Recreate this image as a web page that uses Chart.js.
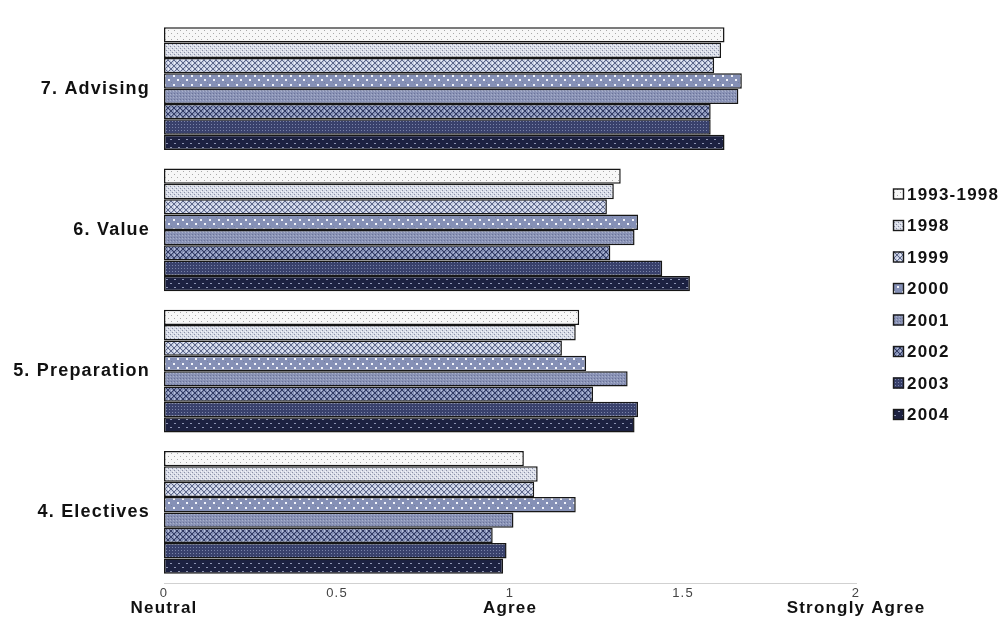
<!DOCTYPE html>
<html>
<head>
<meta charset="utf-8">
<script src="https://cdn.jsdelivr.net/npm/chart.js@4.4.1/dist/chart.umd.min.js"></script>
<style>
  html, body { margin: 0; padding: 0; background: #fff; }
  #wrap { width: 1006px; height: 638px; }
</style>
</head>
<body>
<div id="wrap"><canvas id="c" width="1006" height="638"></canvas></div>
<script>
// Survey items, top to bottom
const categories = ['7. Advising', '6. Value', '5. Preparation', '4. Electives'];

// Cohort names
const seriesNames = ['1993-1998', '1998', '1999', '2000', '2001', '2002', '2003', '2004'];

// Mean response per item (same order as categories)
const v1993_1998 = [1.62, 1.32, 1.20, 1.04];
const v1998      = [1.61, 1.30, 1.19, 1.08];
const v1999      = [1.59, 1.28, 1.15, 1.07];
const v2000      = [1.67, 1.37, 1.22, 1.19];
const v2001      = [1.66, 1.36, 1.34, 1.01];
const v2002      = [1.58, 1.29, 1.24, 0.95];
const v2003      = [1.58, 1.44, 1.37, 0.99];
const v2004      = [1.62, 1.52, 1.36, 0.98];

// Axis labels: numeric ticks and the scale wording beneath them
const tickNumbers = ['0', '0.5', '1', '1.5', '2'];
const tickWords   = ['Neutral', '', 'Agree', '', 'Strongly Agree'];

const seriesValues = [v1993_1998, v1998, v1999, v2000, v2001, v2002, v2003, v2004];

// ---- pattern fills, light to dark ----
function makePattern(size, base, paint) {
  const c = document.createElement('canvas');
  c.width = c.height = size;
  const g = c.getContext('2d');
  g.fillStyle = base;
  g.fillRect(0, 0, size, size);
  paint(g, size);
  return g.createPattern(c, 'repeat');
}
function px(g, color, pts, w = 1, h = 1) {
  g.fillStyle = color;
  pts.forEach(([x, y]) => g.fillRect(x, y, w, h));
}
function crossHatch(g, n, color) {
  g.fillStyle = color;
  for (let i = 0; i < n; i++) {
    g.fillRect(i, i, 1, 1);
    g.fillRect(i, n - 1 - i, 1, 1);
  }
}

const fills = [
  makePattern(6, '#f7f7f7', g => px(g, '#a9a9a9', [[0, 0], [3, 3]])),
  makePattern(4, '#d9dde8', g => { px(g, '#8a90a7', [[0, 0], [2, 2]]); px(g, '#f3f4f8', [[1, 3], [3, 1]]); }),
  makePattern(6, '#c6cde2', g => { crossHatch(g, 6, '#5d6789'); px(g, '#eef1f8', [[0, 2], [0, 3], [3, 0]]); }),
  makePattern(9, '#8590b6', g => { px(g, '#76819f', [[0, 1], [3, 4], [6, 7]]); px(g, '#f2f4fa', [[2, 3], [6, 7]], 2, 2); }),
  makePattern(3, '#8a93b6', g => { px(g, '#6a7398', [[0, 0]]); px(g, '#a9b1cc', [[2, 1]]); }),
  makePattern(6, '#8590b6', g => { crossHatch(g, 6, '#323b63'); px(g, '#b9c1db', [[0, 2], [0, 3], [3, 0]]); }),
  makePattern(3, '#39416c', g => px(g, '#7a83a8', [[1, 1]])),
  makePattern(8, '#1c2141', g => px(g, '#8d94b3', [[2, 3], [6, 7]], 2, 1))
];

const FONT = '"Liberation Sans", Arial, sans-serif';

// slight tracking on all chart text
const tracking = {
  id: 'tracking',
  beforeUpdate(chart) { chart.ctx.letterSpacing = '1.2px'; },
  beforeDraw(chart) { chart.ctx.letterSpacing = '1.2px'; }
};

// vertical legend to the right of the plot
const sideLegend = {
  id: 'sideLegend',
  afterDraw(chart) {
    const ctx = chart.ctx;
    const x0 = chart.chartArea.right + 37;
    const y0 = 194, step = 31.5, box = 11;
    ctx.save();
    ctx.font = 'bold 17px ' + FONT;
    ctx.textBaseline = 'middle';
    ctx.textAlign = 'left';
    chart.data.datasets.forEach((ds, i) => {
      const y = y0 + i * step;
      ctx.fillStyle = ds.backgroundColor;
      ctx.fillRect(x0, y - box / 2, box, box);
      ctx.lineWidth = 1.4;
      ctx.strokeStyle = '#1a1a1a';
      ctx.strokeRect(x0 + 0.5, y - box / 2 + 0.5, box - 1, box - 1);
      ctx.fillStyle = '#111';
      ctx.fillText(ds.label, x0 + box + 3, y + 1);
    });
    ctx.restore();
  }
};

const datasets = seriesNames.map((name, i) => ({
  label: name,
  data: seriesValues[i],
  backgroundColor: fills[i],
  borderColor: '#161616',
  borderWidth: 1.5,
  borderSkipped: false,
  xAxisID: 'x',
  yAxisID: 'y'
}));

new Chart(document.getElementById('c'), {
  type: 'bar',
  data: { labels: categories, datasets },
  plugins: [tracking, sideLegend],
  options: {
    indexAxis: 'y',
    responsive: false,
    animation: false,
    devicePixelRatio: 1,
    categoryPercentage: 0.87,
    barPercentage: 1.0,
    layout: { padding: { top: 18, right: 150, bottom: 15, left: 0 } },
    plugins: { legend: { display: false }, tooltip: { enabled: false } },
    scales: {
      y: {
        type: 'category',
        grid: { display: false, drawTicks: false },
        border: { display: false },
        ticks: { color: '#111', font: { family: FONT, size: 18, weight: 'bold' }, padding: 14 },
        afterFit(s) { s.width = 164; s.paddingTop = 0; s.paddingBottom = 0; }
      },
      x: {
        type: 'linear',
        position: 'bottom',
        min: 0, max: 2,
        weight: 0,
        grid: { display: false, drawTicks: false },
        border: { display: true, color: 'rgba(0,0,0,0.18)', dash: [3, 3], width: 1 },
        ticks: {
          stepSize: 0.5,
          padding: 3,
          color: '#444',
          font: { family: FONT, size: 13 },
          callback: (v, i) => tickNumbers[i]
        },
        afterFit(s) { s.height = 14; }
      },
      x2: {
        type: 'linear',
        position: 'bottom',
        min: 0, max: 2,
        weight: 1,
        grid: { display: false, drawTicks: false },
        border: { display: false },
        ticks: {
          stepSize: 0.5,
          padding: 1,
          color: '#111',
          autoSkip: false,
          maxRotation: 0,
          font: { family: FONT, size: 17, weight: 'bold' },
          callback: (v, i) => tickWords[i]
        },
        afterFit(s) { s.height = 26; }
      }
    }
  }
});
</script>
</body>
</html>
